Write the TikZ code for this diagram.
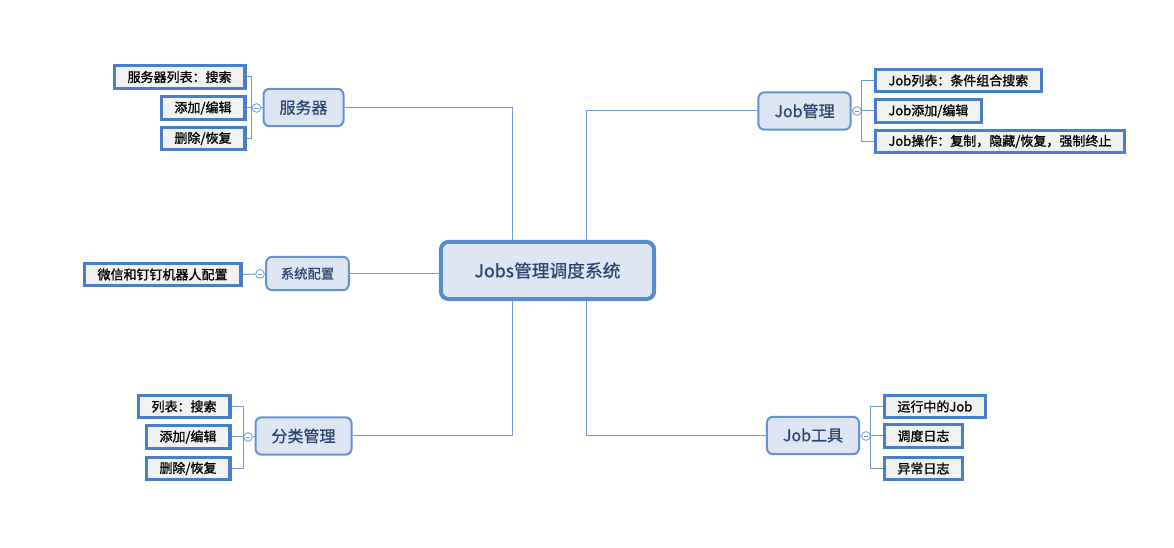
\documentclass[tikz,border=0pt]{standalone}
\usepackage{fontspec}
\setmainfont{Noto Sans CJK SC}
\newfontfamily\leaffont[FakeBold=1.2]{Noto Sans CJK SC}
\newfontfamily\topicfont[FakeBold=0.8]{Noto Sans CJK SC}
\usepackage{xcolor}
\usetikzlibrary{positioning}
\definecolor{mmline}{RGB}{112,156,214}
\definecolor{mmroot}{RGB}{88,140,208}
\definecolor{mmtopic}{RGB}{98,146,210}
\definecolor{mmleaf}{RGB}{74,126,200}
\definecolor{mmfill}{RGB}{221,230,242}
\definecolor{mmgray}{RGB}{242,242,242}
\definecolor{mmtext}{RGB}{42,70,112}

\begin{document}
\begin{tikzpicture}[
        x=0.75pt, y=-0.75pt,
        root/.style={draw=mmroot, line width=3pt, rounded corners=6pt,
                     fill=mmfill, text=mmtext, minimum width=160pt,
                     minimum height=43pt,
                     font=\topicfont\fontsize{13.3}{16}\selectfont},
        topic/.style={draw=mmtopic, line width=1.5pt, rounded corners=4.5pt,
                      fill=mmfill, text=mmtext, inner xsep=12pt,
                      minimum height=28pt,
                      font=\topicfont\fontsize{12}{14}\selectfont},
        leaf/.style={draw=mmleaf, line width=2.4pt, fill=mmgray,
                     inner xsep=10pt, minimum height=17pt,
                     font=\leaffont\fontsize{9.75}{12}\selectfont},
        fold/.style={circle, draw=mmline, fill=white, line width=0.6pt,
                     minimum size=6.5pt, inner sep=0pt,
                     path picture={\draw[mmline, line width=0.5pt]
                       ([xshift=-1.7pt]path picture bounding box.center) --
                       ([xshift=1.7pt]path picture bounding box.center);}},
        branch/.style={draw=mmline, line width=0.75pt}
      ]
      \useasboundingbox (0,0) rectangle (1174,548);

      % centre and main topics
      \node[root] (root) at (547.5,270.5) {Jobs管理调度系统};
      \node[topic] (srv) at (303.5,107.5) {服务器};
      \node[topic] (job) at (804.5,111) {Job管理};
      \node[topic, inner xsep=11pt, minimum height=25pt,
            font=\topicfont\fontsize{10}{12}\selectfont] (sys) at (307.5,273.5) {系统配置};
      \node[topic] (cat) at (303.5,436) {分类管理};
      \node[topic] (tool) at (813,435.5) {Job工具};

      % fold markers
      \node[fold] (srvf) at (256.5,108) {};
      \node[fold] (jobf) at (857,111) {};
      \node[fold] (sysf) at (260,274) {};
      \node[fold] (catf) at (248,437) {};
      \node[fold] (toolf) at (866,436) {};

      % leaves
      \node[leaf, anchor=east] (srv1) at (246.5,77) {服务器列表：搜索};
      \node[leaf, anchor=east] (srv2) at (246.5,108) {添加/编辑};
      \node[leaf, anchor=east] (srv3) at (246.5,138.5) {删除/恢复};

      \node[leaf, anchor=west] (job1) at (873.5,80.5) {Job列表：条件组合搜索};
      \node[leaf, anchor=west] (job2) at (873.5,111) {Job添加/编辑};
      \node[leaf, anchor=west] (job3) at (873.5,141.5) {Job操作：复制，隐藏/恢复，强制终止};

      \node[leaf, anchor=east] (sys1) at (242.5,274.5) {微信和钉钉机器人配置};

      \node[leaf, anchor=east] (cat1) at (231.5,406.5) {列表：搜索};
      \node[leaf, anchor=east] (cat2) at (231.5,437) {添加/编辑};
      \node[leaf, anchor=east] (cat3) at (231.5,468.5) {删除/恢复};

      \node[leaf, anchor=west] (tool1) at (882.5,406.5) {运行中的Job};
      \node[leaf, anchor=west] (tool2) at (882.5,436) {调度日志};
      \node[leaf, anchor=west] (tool3) at (882.5,468.5) {异常日志};

      % centre to topics
      \draw[branch] ([xshift=-26.6pt]root.north) |- (srv.east);
      \draw[branch] ([xshift=29.6pt]root.north) |- (job.west);
      \draw[branch] (root.west |- sys.east) -- (sys.east);
      \draw[branch] ([xshift=-26.6pt]root.south) |- (cat.east);
      \draw[branch] ([xshift=29.6pt]root.south) |- (tool.west);

      % topics to leaves
      \draw[branch] (srvf.east) -- (srv.west |- srvf.east);
      \draw[branch] (srv1.east) -| (srvf.west) |- (srv3.east);
      \draw[branch] (srv2.east) -- (srv2.east -| srvf.west);

      \draw[branch] (jobf.west) -- (job.east |- jobf.west);
      \draw[branch] (job1.west) -| (jobf.east) |- (job3.west);
      \draw[branch] (job2.west) -- (job2.west -| jobf.east);

      \draw[branch] (sysf.east) -- (sys.west |- sysf.east);
      \draw[branch] (sys1.east) -- (sysf.west);

      \draw[branch] (catf.east) -- (cat.west |- catf.east);
      \draw[branch] (cat1.east) -| (catf.west) |- (cat3.east);
      \draw[branch] (cat2.east) -- (cat2.east -| catf.west);

      \draw[branch] (toolf.west) -- (tool.east |- toolf.west);
      \draw[branch] (tool1.west) -| (toolf.east) |- (tool3.west);
      \draw[branch] (tool2.west) -- (tool2.west -| toolf.east);
    \end{tikzpicture}
\end{document}
